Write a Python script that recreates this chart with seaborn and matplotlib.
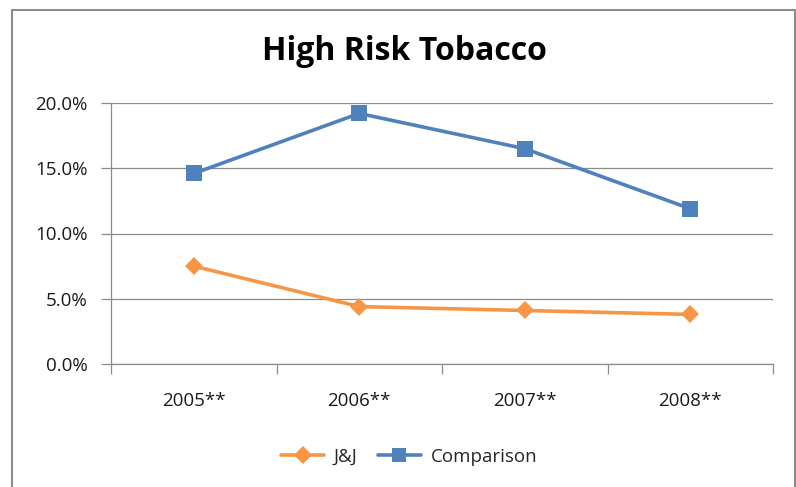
import matplotlib
matplotlib.use("Agg")
import matplotlib.pyplot as plt
from matplotlib.patches import Rectangle
from matplotlib.lines import Line2D
from matplotlib.ticker import FuncFormatter, FixedLocator
import seaborn as sns
import pandas as pd

years = ["2005**", "2006**", "2007**", "2008**"]
jj = [7.5, 4.4, 4.1, 3.8]
comparison = [14.6, 19.2, 16.5, 11.9]
series_names = ["J&J", "Comparison"]
y_ticks = [0, 5, 10, 15, 20]

colors = {"J&J": "#F79646", "Comparison": "#4F81BD"}
markers = {"J&J": "D", "Comparison": "s"}

df = pd.DataFrame({
    "year": years * 2,
    "value": jj + comparison,
    "series": ["J&J"] * len(years) + ["Comparison"] * len(years),
})

sns.set_theme(style="white")
plt.rcParams["font.family"] = ["Open Sans", "DejaVu Sans"]

W, H = 796, 487
fig = plt.figure(figsize=(W / 100, H / 100), dpi=100)
ax = fig.add_axes([111 / W, 1 - 364 / H, (773 - 111) / W, (364 - 103) / H])

sns.lineplot(data=df, x="year", y="value", hue="series", style="series",
             palette=colors, markers=markers, dashes=False, linewidth=2.6,
             markersize=10, markeredgewidth=0, sort=False, legend=False, ax=ax)
# Bigger square marker for the comparison series
for line in ax.get_lines():
    if line.get_marker() == "s":
        line.set_markersize(11.5)
    else:
        line.set_markersize(9)

ax.set_xlim(-0.5, len(years) - 0.5)
ax.set_ylim(0, 20)
ax.set_xlabel("")
ax.set_ylabel("")

ax.yaxis.set_major_locator(FixedLocator(y_ticks))
ax.yaxis.set_major_formatter(FuncFormatter(lambda v, p: f"{v:.1f}%"))
ax.yaxis.grid(True, color="#8C8C8C", linewidth=0.9)
ax.xaxis.grid(False)

# Category boundaries carry the tick marks, labels sit centred in each slot
ax.set_xticks([i - 0.5 for i in range(len(years) + 1)])
ax.set_xticklabels([])
ax.set_xticks(range(len(years)), minor=True)
ax.set_xticklabels(years, minor=True)
ax.tick_params(axis="x", which="major", direction="out", length=7, width=0.9,
               color="#8C8C8C", bottom=True)
ax.tick_params(axis="x", which="minor", length=0, pad=20, labelsize=13.5,
               labelcolor="#1a1a1a")
ax.tick_params(axis="y", direction="out", length=7, width=0.9, color="#8C8C8C",
               left=True, pad=10, labelsize=13.5, labelcolor="#1a1a1a")

for side in ["top", "right"]:
    ax.spines[side].set_visible(False)
for side in ["left", "bottom"]:
    ax.spines[side].set_color("#8C8C8C")
    ax.spines[side].set_linewidth(0.9)

fig.text(404 / W, 1 - 52 / H, "High Risk Tobacco", ha="center", va="center",
         fontsize=23, fontweight="bold", color="black")

handles = [Line2D([0], [0], color=colors[n], marker=markers[n], linewidth=2.6,
                  markersize=9 if n == "J&J" else 10, markeredgewidth=0)
           for n in series_names]
fig.legend(handles, series_names, loc="center", bbox_to_anchor=(409 / W, 1 - 457 / H),
           ncol=2, frameon=False, fontsize=13.5, handlelength=2.3,
           columnspacing=1.1, handletextpad=0.5)

fig.add_artist(Rectangle((12 / W, -0.05), (795 - 12) / W, 1.05 - 10 / H,
                         transform=fig.transFigure, fill=False,
                         edgecolor="#8C8C8C", linewidth=1.5))

fig.savefig("out.png", dpi=100, facecolor="white")
